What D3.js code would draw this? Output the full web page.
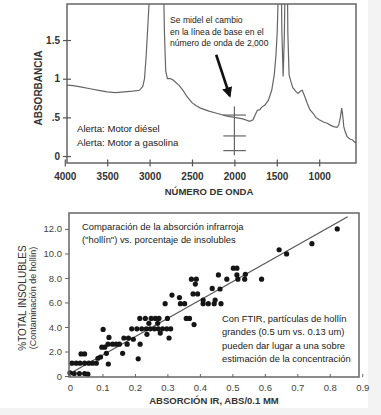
<!DOCTYPE html>
<html>
<head>
<meta charset="utf-8">
<script src="https://cdn.jsdelivr.net/npm/d3@7"></script>
<style>
body { margin: 0; background: #f3f3f3; }
svg { display: block; }
text { font-family: "Liberation Sans", Arial, sans-serif; fill: #222; }
</style>
</head>
<body>
<div id="chart"></div>
<script>
"use strict"
// IR spectrum (top panel)
var wavenumber = [4000,3900,3800,3700,3600,3500,3400,3300,3200,3120,3080,3060,3040,3020,3000,2990,2950,2880,2840,2825,2810,2790,2760,2730,2700,2650,2600,2560,2500,2450,2400,2300,2200,2100,2000,1900,1820,1780,1760,1730,1700,1680,1640,1600,1560,1530,1510,1495,1485,1470,1455,1440,1425,1410,1395,1380,1370,1355,1330,1310,1270,1250,1220,1200,1170,1140,1110,1070,1040,1000,950,900,870,830,790,770,750,735,725,710,695,670,640,610,580,560];
var absorbance = [0.92,0.91,0.89,0.87,0.85,0.83,0.82,0.83,0.84,0.85,0.90,1.00,1.30,1.70,2.10,2.6,3.5,3.5,2.5,1.6,1.1,1.0,1.0,0.99,0.96,0.91,0.84,0.77,0.69,0.65,0.62,0.58,0.55,0.52,0.50,0.48,0.45,0.47,0.52,0.59,0.60,0.63,0.66,0.72,0.85,1.05,1.3,1.6,2.0,3.0,3.0,1.6,1.03,1.6,3.0,3.0,1.6,1.05,0.95,0.88,0.83,0.81,0.84,0.85,0.77,0.68,0.60,0.55,0.50,0.47,0.44,0.42,0.40,0.38,0.37,0.40,0.50,0.62,0.55,0.38,0.32,0.25,0.22,0.21,0.18,0.17];
var specXTicks = [4000,3500,3000,2500,2000,1500,1000];
var specYTicks = [0,0.5,1,1.5];
var specYLabels = ["0",".5","1","1.5"];
var markerWave = 2000;
var markerBars = [0.53,0.26,0.07];

// soot absorbance vs insolubles (bottom panel)
var irAbs = [0.0,0.013,0.029,0.045,0.055,
  0.006,0.019,0.031,0.045,0.058,0.069,0.081,0.034,0.045,0.086,0.094,
  0.098,0.107,0.112,0.102,0.118,0.12,0.117,0.131,0.142,0.152,
  0.162,0.166,0.176,0.18,0.195,0.21,0.216,
  0.19,0.206,0.221,0.235,0.247,0.26,0.272,0.285,0.298,0.31,
  0.215,0.232,0.25,0.263,0.274,0.3,0.243,0.27,0.237,0.278,0.305,0.293,
  0.314,0.337,0.34,0.353,0.358,0.368,0.382,
  0.374,0.389,0.386,0.379,0.393,0.41,0.41,0.426,0.444,0.465,0.447,
  0.438,0.462,0.457,0.483,0.503,0.514,0.514,0.517,0.54,0.538,0.59,
  0.644,0.667,0.745,0.823];
var insolubles = [0.25,0.2,0.2,0.2,0.15,
  1.05,1.05,1.05,1.05,1.05,1.05,1.05,1.8,1.8,1.45,1.55,
  2.35,2.35,1.85,3.8,0.98,3.15,2.6,2.6,2.6,2.6,
  1.85,3.1,2.6,3.1,3.0,1.4,2.6,
  3.85,3.85,3.85,3.85,3.85,3.85,3.85,3.85,3.85,3.85,
  4.7,4.7,4.7,4.7,4.7,4.7,4.3,4.3,3.4,3.5,3.1,5.9,
  6.6,6.4,5.9,5.9,4.7,4.7,4.2,
  7.9,7.9,7.5,6.7,6.7,6.2,5.9,5.9,5.9,5.9,6.2,
  7.15,7.1,8.25,7.9,8.8,8.8,8.25,7.9,8.3,7.9,7.9,
  10.3,9.96,10.8,12.0];
var fitLine = [[0,0.2],[0.855,13.0]];
var scatXTicks = [0,0.1,0.2,0.3,0.4,0.5,0.6,0.7,0.8,0.9];
var scatYTicks = [0,2,4,6,8,10,12];

var width = 381, height = 415;
var svg = d3.select("#chart").append("svg")
	.attr("width",width)
	.attr("height",height);
svg.append("rect").attr("width",width).attr("height",height).style("fill","#f3f3f3");
svg.append("rect").attr("width",368).attr("height",408).style("fill","#fff");

// ---------- top panel ----------
var sx = d3.scaleLinear().domain([3974,566]).range([67,356]);
var sy = d3.scaleLinear().domain([-0.09,1.966]).range([163,4]);

svg.append("clipPath").attr("id","specclip")
	.append("rect").attr("x",67).attr("y",4).attr("width",289).attr("height",159);

var spec = wavenumber.map(function(w,i){ return [w,absorbance[i]]; });
svg.append("path")
	.datum(spec)
	.attr("clip-path","url(#specclip)")
	.attr("d",d3.line().x(function(d){return sx(d[0]);}).y(function(d){return sy(d[1]);}))
	.style("fill","none").style("stroke","#666").style("stroke-width",1.2);

svg.append("rect").attr("x",67).attr("y",4).attr("width",289).attr("height",159)
	.style("fill","none").style("stroke","#666").style("stroke-width",1.5);

var gx = svg.append("g").attr("transform","translate(0,163)")
	.call(d3.axisBottom(sx).tickValues(specXTicks).tickSize(3.5).tickPadding(6).tickFormat(d3.format("d")));
gx.select(".domain").remove();
gx.selectAll(".tick line").attr("y1",-3.5).style("stroke","#555").style("stroke-width",1.2);
gx.selectAll(".tick text").style("font-size","10px").style("font-weight","bold").style("fill","#333");

var gy = svg.append("g").attr("transform","translate(67,0)")
	.call(d3.axisLeft(sy).tickValues(specYTicks).tickSize(4).tickPadding(3)
		.tickFormat(function(d,i){ return specYLabels[i]; }));
gy.select(".domain").remove();
gy.selectAll(".tick line").attr("x1",4).style("stroke","#555").style("stroke-width",1.2);
gy.selectAll(".tick text").style("font-size","10px").style("font-weight","bold").style("fill","#333");

// baseline marker at 2000
svg.append("line")
	.attr("x1",sx(markerWave)).attr("x2",sx(markerWave))
	.attr("y1",sy(0.64)).attr("y2",sy(0.01))
	.style("stroke","#666").style("stroke-width",1.2);
svg.selectAll(".mbar").data(markerBars).enter().append("line")
	.attr("x1",sx(markerWave+130)).attr("x2",sx(markerWave-135))
	.attr("y1",function(d){return sy(d);}).attr("y2",function(d){return sy(d);})
	.style("stroke","#666").style("stroke-width",1.2);

// arrow
svg.append("defs").append("marker").attr("id","head")
	.attr("viewBox","0 0 10 10").attr("refX",8).attr("refY",5)
	.attr("markerWidth",4).attr("markerHeight",4).attr("orient","auto")
	.append("path").attr("d","M0,0L10,5L0,10Z").style("fill","#111");
svg.append("line")
	.attr("x1",sx(2215)).attr("y1",sy(1.31))
	.attr("x2",sx(2055)).attr("y2",sy(0.78))
	.attr("marker-end","url(#head)")
	.style("stroke","#111").style("stroke-width",2.6);

var note = svg.append("text").attr("x",170).attr("y",23).style("font-size","8.6px");
["Se midel el cambio","en la línea de base en el","número de onda de 2,000"].forEach(function(s,i){
	note.append("tspan").attr("x",170).attr("dy",i===0?0:11.5).text(s);
});
svg.append("text").attr("x",77).attr("y",132).style("font-size","9.6px").text("Alerta: Motor diésel");
svg.append("text").attr("x",77).attr("y",146).style("font-size","9.6px").text("Alerta: Motor a gasolina");

svg.append("text").attr("transform","translate(42,88) rotate(-90)")
	.attr("text-anchor","middle").style("font-size","10px").style("font-weight","bold").style("fill","#333")
	.text("ABSORBANCIA");
svg.append("text").attr("x",209).attr("y",195)
	.attr("text-anchor","middle").style("font-size","9.5px").style("font-weight","bold").style("fill","#333")
	.text("NÚMERO DE ONDA");

// ---------- bottom panel ----------
var px = d3.scaleLinear().domain([0,0.89]).range([70,359]);
var py = d3.scaleLinear().domain([-0.08,13.3]).range([377,213]);

svg.append("line")
	.attr("x1",px(fitLine[0][0])).attr("y1",py(fitLine[0][1]))
	.attr("x2",px(fitLine[1][0])).attr("y2",py(fitLine[1][1]))
	.style("stroke","#555").style("stroke-width",1.2);

svg.selectAll(".pt").data(irAbs).enter().append("circle")
	.attr("cx",function(d){return px(d);})
	.attr("cy",function(d,i){return py(insolubles[i]);})
	.attr("r",2.6)
	.style("fill","#151515");

svg.append("rect").attr("x",69).attr("y",213).attr("width",290).attr("height",164)
	.style("fill","none").style("stroke","#666").style("stroke-width",1.5);

var bx = svg.append("g").attr("transform","translate(0,377)")
	.call(d3.axisBottom(px).tickValues(scatXTicks).tickSize(3).tickPadding(4)
		.tickFormat(function(d){ return d===0?"0":d3.format(".1f")(d); }));
bx.select(".domain").remove();
bx.selectAll(".tick line").attr("y1",-3).attr("y2",0).style("stroke","#666");
bx.selectAll(".tick text").style("font-size","9.5px").style("fill","#444");

var by = svg.append("g").attr("transform","translate(69,0)")
	.call(d3.axisLeft(py).tickValues(scatYTicks).tickSize(4).tickPadding(3)
		.tickFormat(function(d){ return d===0?"0":d3.format(".1f")(d); }));
by.select(".domain").remove();
by.selectAll(".tick line").style("stroke","#666");
by.selectAll(".tick text").style("font-size","9.5px").style("fill","#444");

var n1 = svg.append("text").attr("x",82).attr("y",230).style("font-size","9.4px");
["Comparación de la absorción infrarroja","(\"hollín\") vs. porcentaje de insolubles"].forEach(function(s,i){
	n1.append("tspan").attr("x",82).attr("dy",i===0?0:12.6).text(s);
});
var n2 = svg.append("text").attr("x",222).attr("y",322).style("font-size","9.4px");
["Con FTIR, partículas de hollín","grandes (0.5 um vs. 0.13 um)","pueden dar lugar a una sobre","estimación de la concentración"].forEach(function(s,i){
	n2.append("tspan").attr("x",222).attr("dy",i===0?0:13.4).text(s);
});

svg.append("text").attr("transform","translate(26,298) rotate(-90)")
	.attr("text-anchor","middle").style("font-size","10px").style("fill","#333")
	.text("%TOTAL INSOLUBLES");
svg.append("text").attr("transform","translate(36,298) rotate(-90)")
	.attr("text-anchor","middle").style("font-size","9px").style("fill","#333")
	.text("(Contaminación de hollín)");
svg.append("text").attr("x",214).attr("y",404)
	.attr("text-anchor","middle").style("font-size","9.5px").style("font-weight","bold").style("fill","#333")
	.text("ABSORCIÓN IR, ABS/0.1 MM");
</script>
</body>
</html>
